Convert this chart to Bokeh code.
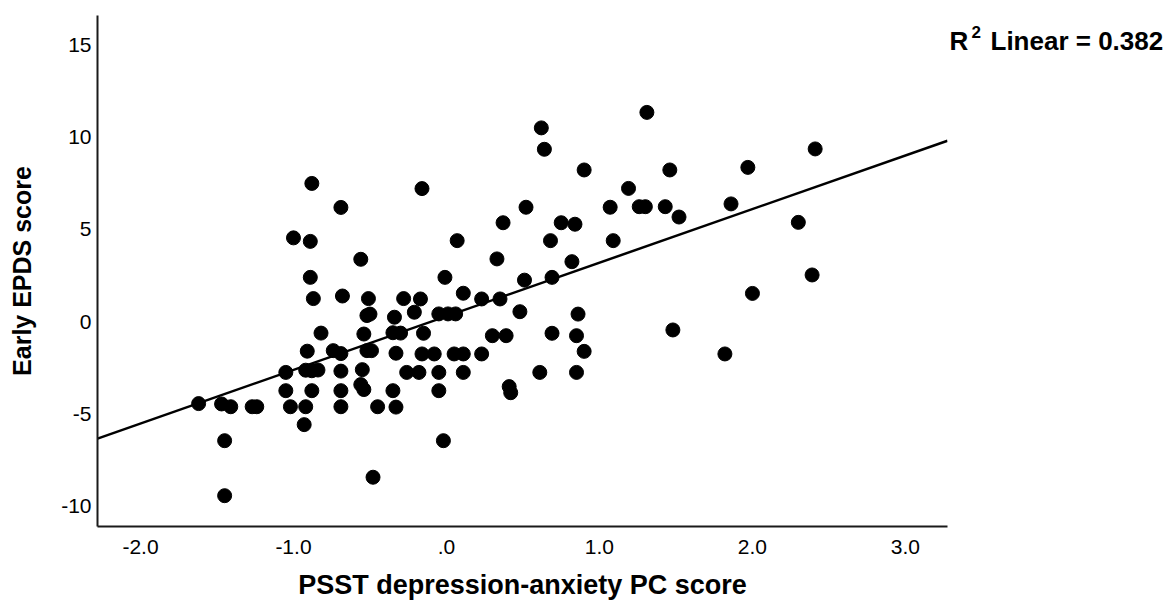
from bokeh.plotting import figure
from bokeh.layouts import row
from bokeh.models import FixedTicker, Label, Range1d
from bokeh.embed import file_html
from bokeh.resources import INLINE

# PSST depression-anxiety PC score (x) and Early EPDS score (y)
pc_score = [
    -1.62, -1.47, -1.41, -1.27, -1.24, -1.45, -1.45,
    -1.05, -1.05, -1.02, -0.93, -0.92, -0.91, -0.92, -0.88, -0.84, -0.88,
    -1.00, -0.89, -0.88, -0.89, -0.87, -0.82,
    -0.69, -0.68, -0.74, -0.69, -0.69, -0.69, -0.69,
    -0.56, -0.51, -0.52, -0.50, -0.54, -0.52, -0.49, -0.55, -0.56, -0.54, -0.45, -0.48,
    -0.34, -0.35, -0.30, -0.33, -0.35, -0.33, -0.28,
    -0.17, -0.21, -0.16, -0.15, -0.16, -0.08, -0.26, -0.18, -0.05, -0.05, -0.02,
    -0.05, 0.01, 0.06, -0.01, 0.07, 0.05, 0.11, 0.11, 0.11,
    0.23, 0.23, 0.30, 0.33, 0.35, 0.37, 0.39, 0.41, 0.42,
    0.48, 0.51, 0.52, 0.62, 0.64, 0.61, 0.68, 0.69, 0.69, 0.75, 0.84, 0.82, 0.86, 0.85, 0.85, 0.90, 0.90,
    1.07, 1.09, 1.19, 1.26, 1.30, 1.31, 1.43, 1.46, 1.48, 1.52,
    1.82, 1.86, 1.97, 2.00, 2.30, 2.39, 2.41,
]
epds = [
    -4.44, -4.46, -4.61, -4.61, -4.61, -6.45, -9.43,
    -2.75, -3.74, -4.61, -5.58, -4.61, -1.60, -2.63, -2.66, -2.62, -3.74,
    4.54, 4.35, 7.49, 2.40, 1.25, -0.62,
    6.19, 1.39, -1.57, -1.73, -2.68, -3.74, -4.61,
    3.38, 1.25, 0.33, 0.41, -0.67, -1.57, -1.57, -2.60, -3.41, -3.68, -4.61, -8.43,
    0.24, -0.60, -0.62, -1.71, -3.74, -4.63, 1.25,
    1.23, 0.51, 7.21, -0.63, -1.75, -1.75, -2.75, -2.75, -2.75, -3.74, -6.45,
    0.42, 0.42, 0.42, 2.40, 4.39, -1.75, -1.75, -2.75, 1.54,
    1.23, -1.75, -0.76, 3.40, 1.23, 5.36, -0.76, -3.52, -3.85,
    0.54, 2.25, 6.20, 10.50, 9.34, -2.75, 4.39, 2.40, -0.63, 5.36, 5.28, 3.25, 0.41, -0.76, -2.75, -1.61, 8.22,
    6.20, 4.39, 7.22, 6.23, 6.23, 11.34, 6.23, 8.22, -0.45, 5.67,
    -1.75, 6.38, 8.36, 1.53, 5.38, 2.53, 9.36,
]

x_ticks = [-2, -1, 0, 1, 2, 3]
x_tick_labels = ["-2.0", "-1.0", ".0", "1.0", "2.0", "3.0"]
y_ticks = [-10, -5, 0, 5, 10, 15]
y_tick_labels = ["-10", "-5", "0", "5", "10", "15"]

# fit line
fit_intercept = 0.29
fit_slope = 2.905
r2_text = "0.382"

x_title = "PSST depression-anxiety PC score"
y_title = "Early EPDS score"

FONT = "Liberation Sans"
H = 607

p = figure(
    width=948, height=H,
    output_backend="svg", toolbar_location=None,
    x_range=Range1d(-2.281, 3.275), y_range=Range1d(-11.10, 16.59),
    min_border_left=97, min_border_right=1, min_border_top=15, min_border_bottom=81,
)
p.outline_line_color = None
p.grid.grid_line_color = None
p.background_fill_color = "white"
p.border_fill_color = "white"

# regression line over the full x range
xs = [p.x_range.start, p.x_range.end]
ys = [fit_intercept + fit_slope * v for v in xs]
p.line(xs, ys, line_color="black", line_width=2.5)

p.scatter(pc_score, epds, marker="circle", size=14,
          fill_color="black", line_color="black")

for ax in (p.xaxis[0], p.yaxis[0]):
    ax.axis_line_color = "#1a1a1a"
    ax.axis_line_width = 2
    ax.major_tick_line_color = None
    ax.minor_tick_line_color = None
    ax.major_tick_out = 0
    ax.major_tick_in = 0
    ax.major_label_text_font = FONT
    ax.major_label_text_font_size = "21px"
    ax.major_label_text_color = "black"
    ax.axis_label_text_font = FONT
    ax.axis_label_text_font_style = "bold"
    ax.axis_label_text_color = "black"

p.xaxis.ticker = FixedTicker(ticks=x_ticks)
p.xaxis.major_label_overrides = {t: l for t, l in zip(x_ticks, x_tick_labels)}
p.xaxis.major_label_standoff = 13
p.xaxis.axis_label = x_title
p.xaxis.axis_label_text_font_size = "27px"
p.xaxis.axis_label_standoff = 13

p.yaxis.ticker = FixedTicker(ticks=y_ticks)
p.yaxis.major_label_overrides = {t: l for t, l in zip(y_ticks, y_tick_labels)}
p.yaxis.major_label_standoff = 6
p.yaxis.axis_label = y_title
p.yaxis.axis_label_text_font_size = "25px"
p.yaxis.axis_label_standoff = 22

# side panel holding the R² annotation (pixel-like coordinates, y downward)
p2 = figure(
    width=1169 - 948, height=H,
    output_backend="svg", toolbar_location=None,
    x_range=Range1d(0, 1169 - 948), y_range=Range1d(H, 0),
    x_axis_type=None, y_axis_type=None, min_border=0,
)
p2.outline_line_color = None
p2.background_fill_color = "white"
p2.border_fill_color = "white"

p2.add_layout(Label(x=1, y=30, text="R", text_font=FONT,
                    text_font_style="bold", text_font_size="26px",
                    text_baseline="alphabetic", text_color="black"))
p2.add_layout(Label(x=23, y=20, text="2", text_font=FONT,
                    text_font_style="bold", text_font_size="17px",
                    text_baseline="alphabetic", text_color="black"))
p2.add_layout(Label(x=42, y=30, text="Linear = " + r2_text, text_font=FONT,
                    text_font_style="bold", text_font_size="26px",
                    text_baseline="alphabetic", text_color="black"))

layout = row(p, p2)
open("out.html", "w").write(file_html(layout, INLINE))
